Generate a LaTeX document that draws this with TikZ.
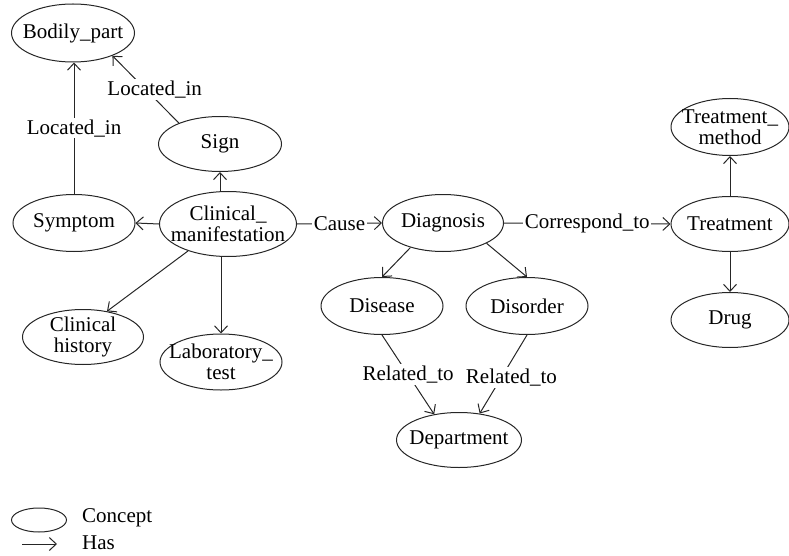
\documentclass[tikz,border=0pt]{standalone}
\usepackage{fontspec}
\setmainfont{Liberation Serif}
\usetikzlibrary{shapes.geometric,arrows.meta}
\begin{document}
\begin{tikzpicture}[x=1pt,y=-1pt,
  txt/.style={font=\fontsize{21}{20.5}\selectfont, text=black, align=center},
  concept/.style 2 args={ellipse, draw=black!85, line width=1pt, inner sep=0pt,
    minimum width=#1, minimum height=#2},
  has/.style={draw=black!85, line width=1pt, -{Straight Barb[length=7pt,width=13pt]}},
  rel/.style={txt, fill=white, inner sep=1.5pt}]
\useasboundingbox (0,0) rectangle (789,556);

% concepts
\node[concept={123}{58}, label={[txt]center:Bodily\_part}] (bp) at (73,33) {};
\node[concept={123}{55}, label={[txt]center:Sign}] (sign) at (220,144) {};
\node[concept={122}{57}, label={[txt]center:Symptom}] (sym) at (74,223) {};
\node[concept={137}{65}, label={[txt]center:Clinical\_\\manifestation}] (cm) at (228,224) {};
\node[concept={121}{55}, label={[txt]center:Clinical\\history}] (hist) at (83,337) {};
\node[concept={122}{56}, label={[txt]center:Laboratory\_\\test}] (lab) at (221,362) {};
\node[concept={121}{57}, label={[txt]center:Diagnosis}] (diag) at (443,223) {};
\node[concept={122}{57}, label={[txt]center:Disease}] (dis) at (382,306) {};
\node[concept={122}{57}, label={[txt]center:Disorder}] (disord) at (527,306) {};
\node[concept={125}{55}, label={[txt]center:Department}] (dept) at (459,440) {};
\node[concept={118}{55}, label={[txt]center:Treatment}] (treat) at (730,224) {};
\node[concept={118}{57}, label={[txt]center:Treatment\_\\method}] (tm) at (730,127) {};
\node[concept={118}{55}, label={[txt]center:Drug}] (drug) at (730,320) {};

% relations
\draw[has] (sym) -- node[rel] {Located\_in} (bp.south -| sym);
\draw[has] (sign.153) -- node[rel, xshift=9pt] {Located\_in} (bp.-30);
\draw[has] (sign |- cm.north) -- (sign.south);
\draw[has] (cm.west) -- (sym.east);
\draw[has] (cm.214) -- (hist.47);
\draw[has] (lab |- cm.south) -- (lab.north);
\draw[has] (cm.east) -- node[rel] {Cause} (diag.west);
\draw[has] (diag.east) -- node[rel] {Correspond\_to} (treat.west);
\draw[has] (diag.217) -- (dis.north);
\draw[has] (diag.335) -- (disord.north);
\draw[has] (dis.south) -- node[rel, pos=0.5] {Related\_to} (dept.134);
\draw[has] (disord.south) -- node[rel, pos=0.54, xshift=10pt] {Related\_to} (dept.52);
\draw[has] (treat) -- (tm);
\draw[has] (treat) -- (drug);

% legend
\node[concept={55}{24}] (legconcept) at (39,520) {};
\node[txt, anchor=west, inner sep=0pt] (legctext) at (82,518) {Concept};
\coordinate (hasfrom) at (22,544);
\coordinate (hasto) at (57,544);
\draw[has] (hasfrom) -- (hasto);
\node[txt, anchor=west, inner sep=0pt] (leghtext) at (82,543) {Has};
\end{tikzpicture}
\end{document}
